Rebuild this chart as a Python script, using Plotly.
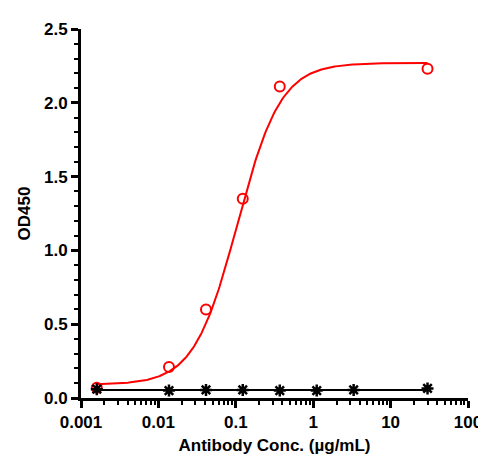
import numpy as np
import plotly.graph_objects as go

# sample data
conc = [0.0016, 0.0137, 0.0412, 0.123, 0.37, 30]
od_sample = [0.07, 0.21, 0.60, 1.35, 2.11, 2.23]

# control
conc_ctrl = [0.0016, 0.0137, 0.0412, 0.123, 0.37, 1.11, 3.33, 30]
od_ctrl = [0.06, 0.05, 0.055, 0.055, 0.05, 0.05, 0.055, 0.065]

x_ticks = [0.001, 0.01, 0.1, 1, 10, 100]
x_labels = ["0.001", "0.01", "0.1", "1", "10", "100"]

# 4PL fit parameters estimated from the drawn curve
bottom, top, ec50, hill = 0.09, 2.27, 0.105, 1.55
xs = np.logspace(np.log10(0.0016), np.log10(30), 300)
fit = bottom + (top - bottom) / (1 + (ec50 / xs) ** hill)

minor_x = [d * m for d in x_ticks[:-1] for m in range(2, 10)]

fig = go.Figure()
fig.add_trace(go.Scatter(x=xs, y=fit, mode="lines", line=dict(color="#ff0000", width=2), showlegend=False))
fig.add_trace(go.Scatter(x=conc, y=od_sample, mode="markers",
                         marker=dict(symbol="circle-open", size=10, color="#ff0000", line=dict(width=2)),
                         showlegend=False))
fig.add_trace(go.Scatter(x=[conc_ctrl[0], conc_ctrl[-1]], y=[0.055, 0.055], mode="lines",
                         line=dict(color="black", width=2), showlegend=False))
fig.add_trace(go.Scatter(x=conc_ctrl, y=od_ctrl, mode="markers",
                         marker=dict(symbol="asterisk-open", size=10, color="black", line=dict(width=2.5, color="black")),
                         showlegend=False))

axis_font = dict(family="Arial, Liberation Sans", size=17, color="black", weight="bold")
fig.update_xaxes(type="log", range=[-3, 2], showline=True, linecolor="black", linewidth=3,
                 ticks="outside", ticklen=7, tickwidth=2.5, tickcolor="black",
                 tickvals=x_ticks, ticktext=x_labels,
                 minor=dict(ticks="outside", ticklen=4, tickwidth=1.5, tickcolor="black",
                            tickvals=minor_x, showgrid=False),
                 showgrid=False, zeroline=False, tickfont=axis_font,
                 title=dict(text="Antibody Conc. (µg/mL)", font=axis_font, standoff=8))
fig.update_yaxes(range=[0, 2.5], showline=True, linecolor="black", linewidth=3,
                 ticks="outside", ticklen=7, tickwidth=2.5, tickcolor="black", dtick=0.5, tickformat=".1f",
                 minor=dict(ticks="outside", ticklen=4, tickwidth=1.5, tickcolor="black", dtick=0.1, showgrid=False),
                 showgrid=False, zeroline=False, tickfont=axis_font,
                 title=dict(text="OD450", font=axis_font, standoff=10))
fig.update_layout(width=486, height=469, plot_bgcolor="white", paper_bgcolor="white",
                  margin=dict(l=73, r=25, t=12, b=79),
                  font=dict(family="Arial, Liberation Sans", color="black"))
fig.write_html("out.html")
